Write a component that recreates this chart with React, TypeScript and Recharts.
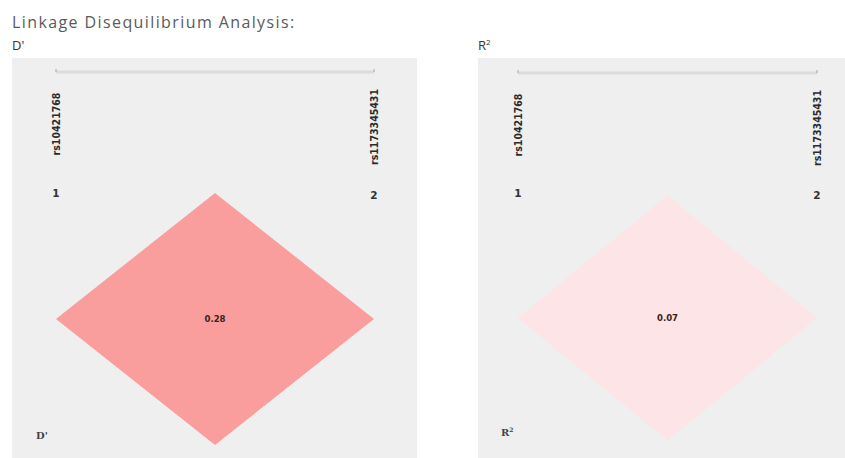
import React from 'react';
import { ComposedChart, Area, Scatter, XAxis, YAxis } from 'recharts';

// markers (SNPs) in the LD plot
const markerNames = ['rs10421768', 'rs1173345431'];
const markerPositions = [1, 2];

// pairwise LD values for marker pair (1, 2)
const dPrimeValues = [0.28];
const r2Values = [0.07];

// row levels of the diamond: mid row and half height
const diamondRows = { mid: 0, half: 1 };

const GREY = '#efefef';

// one diamond cell between marker i and marker j
const buildDiamond = (i: number, j: number) => {
  const c = (i + j) / 2;
  return [
    { x: i, range: [diamondRows.mid, diamondRows.mid] },
    { x: c, range: [diamondRows.mid - diamondRows.half, diamondRows.mid + diamondRows.half] },
    { x: j, range: [diamondRows.mid, diamondRows.mid] },
  ];
};

type panelProps = {
  width: number;
  height: number;
  margin: { top: number; right: number; left: number; bottom: number };
  axisHeight: number;
  yDomain: [number, number];
  values: number[];
  fill: string;
  numberOffset: number;
  corner: React.ReactNode;
  cornerPos: { left: number; top: number };
};

const LdPanel = ({ width, height, margin, axisHeight, yDomain, values, fill, numberOffset, corner, cornerPos }: panelProps) => {
  const diamond = buildDiamond(markerPositions[0], markerPositions[1]);
  const labelData = [{ x: (markerPositions[0] + markerPositions[1]) / 2, y: diamondRows.mid, value: values[0] }];
  const lineY = margin.top + axisHeight;

  const MarkerTick = (props: any) => {
    const { x, payload } = props;
    const idx = markerPositions.indexOf(payload.value);
    const name = markerNames[idx];
    const cy = lineY + 52 + idx * 3;
    return (
      <g>
        <text
          x={x}
          y={cy}
          transform={`rotate(-90 ${x} ${cy})`}
          textAnchor="middle"
          dominantBaseline="central"
          fontFamily="DejaVu Sans Condensed, DejaVu Sans"
          fontWeight="bold"
          fontSize={10.5}
          fill="#2b2b2b"
        >
          {name}
        </text>
        <text
          x={x}
          y={lineY + numberOffset + idx * 2}
          textAnchor="middle"
          dominantBaseline="central"
          fontFamily="DejaVu Sans"
          fontWeight="bold"
          fontSize={10.5}
          fill="#333"
        >
          {payload.value}
        </text>
      </g>
    );
  };

  const ValueLabel = (props: any) => (
    <text
      x={props.cx}
      y={props.cy}
      textAnchor="middle"
      dominantBaseline="central"
      fontFamily="DejaVu Sans Condensed, DejaVu Sans"
      fontWeight="bold"
      fontSize={9.5}
      fill="#3a2222"
    >
      {props.payload.value.toFixed(2)}
    </text>
  );

  return (
    <div style={{ position: 'relative', width, height, background: GREY }}>
      <ComposedChart width={width} height={height} data={diamond} margin={margin}>
        <XAxis
          dataKey="x"
          type="number"
          orientation="top"
          domain={[markerPositions[0], markerPositions[markerPositions.length - 1]]}
          ticks={markerPositions}
          height={axisHeight}
          axisLine={{ stroke: '#dcdcdc', strokeWidth: 3 }}
          tickLine={{ stroke: '#a5a5a5' }}
          tickSize={3}
          tickMargin={0}
          tick={<MarkerTick />}
          allowDataOverflow
        />
        <YAxis type="number" domain={yDomain} hide allowDataOverflow />
        <Area
          type="linear"
          dataKey="range"
          stroke="none"
          fill={fill}
          fillOpacity={1}
          isAnimationActive={false}
          dot={false}
          activeDot={false}
        />
        <Scatter data={labelData} dataKey="y" shape={<ValueLabel />} isAnimationActive={false} />
      </ComposedChart>
      <div
        style={{
          position: 'absolute',
          left: cornerPos.left,
          top: cornerPos.top,
          fontFamily: 'DejaVu Serif',
          fontSize: 10,
          fontWeight: 'bold',
          color: '#444',
        }}
      >
        {corner}
      </div>
    </div>
  );
};

const App = () => {
  return (
    <div style={{ position: 'absolute', left: 0, top: 0, width: 845, height: 458, background: '#fff', overflow: 'hidden' }}>
      <div
        style={{
          position: 'absolute',
          left: 12,
          top: 11,
          fontFamily: 'Open Sans',
          fontSize: 16,
          letterSpacing: 1.4,
          color: '#5a5a5a',
        }}
      >
        Linkage Disequilibrium Analysis:
      </div>
      <div style={{ position: 'absolute', left: 12, top: 36, fontFamily: 'Open Sans', fontSize: 13, color: '#333' }}>D'</div>
      <div style={{ position: 'absolute', left: 478, top: 36, fontFamily: 'Open Sans', fontSize: 13, color: '#333' }}>
        R<sup style={{ fontSize: 8 }}>2</sup>
      </div>

      <div style={{ position: 'absolute', left: 12, top: 58 }}>
        <LdPanel
          width={405}
          height={400}
          margin={{ top: 0, right: 43, left: 44, bottom: 0 }}
          axisHeight={14}
          yDomain={[-1.103, 1.96]}
          values={dPrimeValues}
          fill="#f99d9d"
          numberOffset={121}
          corner={<span>D'</span>}
          cornerPos={{ left: 24, top: 372 }}
        />
      </div>

      <div style={{ position: 'absolute', left: 478, top: 58 }}>
        <LdPanel
          width={367}
          height={400}
          margin={{ top: 1, right: 28, left: 40, bottom: 0 }}
          axisHeight={14}
          yDomain={[-1.143, 2]}
          values={r2Values}
          fill="#fde4e6"
          numberOffset={120}
          corner={<span>R<sup style={{ fontSize: 6 }}>2</sup></span>}
          cornerPos={{ left: 23, top: 368 }}
        />
      </div>
    </div>
  );
};

export default App;
